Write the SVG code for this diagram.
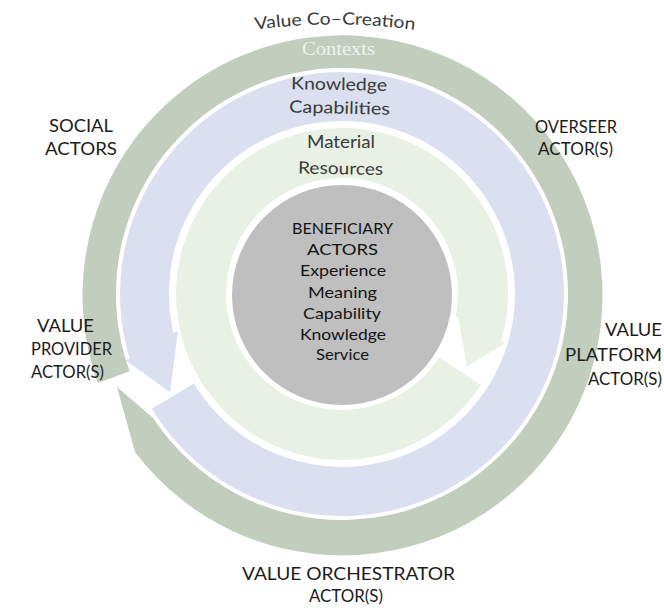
<svg xmlns="http://www.w3.org/2000/svg" width="664" height="608" viewBox="0 0 664 608">
<defs>
<style>
.lbl{font-family:Lato,"Liberation Sans",sans-serif;font-size:16.5px;fill:#1c1c1c}
.ctr{font-family:Lato,"Liberation Sans",sans-serif;font-size:15px;fill:#141414}
.ring{font-family:Lato,"Liberation Sans",sans-serif;font-size:17px;fill:#3a3a3a}
</style>
<path id="arcTop" d="M 215 36.6 A 600 600 0 0 1 455 36.6"/>
</defs>
<rect width="664" height="608" fill="#ffffff"/>

<g id="connectors">
<g id="ring-contexts">
<path fill="#c1cdbd" d="M 97.7 382.9 A 260 260 0 1 1 135 452 L 117 387 L 153.1 418.1 A 226 226 0 1 0 129.6 371.3 Z"/>
</g>
<g id="ring-knowledge">
<path fill="#dae0ef" d="M 151.9 408.7 A 222 222 0 1 0 129.7 358.9 L 125 360 L 170 392 L 178 331 L 173.4 332.9 A 173 173 0 1 1 193.9 383.4 Z"/>
</g>
<g id="ring-material">
<path fill="#e9f1e4" d="M 480.9 384.9 A 166 166 0 1 1 501.2 341.1 L 505 343.3 L 466.7 366.7 L 458.3 316.7 L 455.9 316.1 A 116 116 0 1 0 439.1 357.5 Z"/>
</g>
</g>

<g id="beneficiary">
<circle cx="342" cy="295" r="110" fill="#bfbfbf"/>
<text class="ctr" x="292" y="234" textLength="101" lengthAdjust="spacingAndGlyphs">BENEFICIARY</text>
<text class="ctr" x="307" y="255" textLength="71" lengthAdjust="spacingAndGlyphs">ACTORS</text>
<text class="ctr" x="300" y="276" textLength="86" lengthAdjust="spacingAndGlyphs">Experience</text>
<text class="ctr" x="308" y="297.5" textLength="69" lengthAdjust="spacingAndGlyphs">Meaning</text>
<text class="ctr" x="303" y="319" textLength="78" lengthAdjust="spacingAndGlyphs">Capability</text>
<text class="ctr" x="300" y="340" textLength="86" lengthAdjust="spacingAndGlyphs">Knowledge</text>
<text class="ctr" x="316" y="360" textLength="53" lengthAdjust="spacingAndGlyphs">Service</text>
</g>

<g id="ring-labels">
<text class="ring"><textPath href="#arcTop" startOffset="50%" text-anchor="middle" textLength="160" lengthAdjust="spacingAndGlyphs">Value Co–Creation</textPath></text>
<text x="302" y="54.5" font-family="'Liberation Serif',serif" font-size="19" fill="#eef2ec" textLength="73" lengthAdjust="spacingAndGlyphs">Contexts</text>
<text class="ring" x="291" y="89.3" textLength="96" lengthAdjust="spacingAndGlyphs" transform="rotate(0.9 291 89.3)">Knowledge</text>
<text class="ring" x="289" y="112.5" textLength="101" lengthAdjust="spacingAndGlyphs" transform="rotate(1.3 289 112.5)">Capabilities</text>
<text class="ring" x="307" y="148.3" textLength="68" lengthAdjust="spacingAndGlyphs">Material</text>
<text class="ring" x="298" y="173.5" textLength="85" lengthAdjust="spacingAndGlyphs" transform="rotate(1 298 173.5)">Resources</text>
</g>

<g id="social-actors">
<text class="lbl" x="49" y="132" textLength="64" lengthAdjust="spacingAndGlyphs">SOCIAL</text>
<text class="lbl" x="45" y="155" textLength="72" lengthAdjust="spacingAndGlyphs">ACTORS</text>
</g>
<g id="overseer-actors">
<text class="lbl" x="535" y="133" textLength="82" lengthAdjust="spacingAndGlyphs">OVERSEER</text>
<text class="lbl" x="538" y="155" textLength="75" lengthAdjust="spacingAndGlyphs">ACTOR(S)</text>
</g>
<g id="value-provider">
<text class="lbl" x="37" y="332" textLength="57" lengthAdjust="spacingAndGlyphs">VALUE</text>
<text class="lbl" x="31" y="355" textLength="81" lengthAdjust="spacingAndGlyphs">PROVIDER</text>
<text class="lbl" x="31" y="378" textLength="73" lengthAdjust="spacingAndGlyphs">ACTOR(S)</text>
</g>
<g id="value-platform">
<text class="lbl" x="605" y="336" textLength="57" lengthAdjust="spacingAndGlyphs">VALUE</text>
<text class="lbl" x="565" y="361" textLength="97" lengthAdjust="spacingAndGlyphs">PLATFORM</text>
<text class="lbl" x="588" y="385" textLength="74" lengthAdjust="spacingAndGlyphs">ACTOR(S)</text>
</g>
<g id="value-orchestrator">
<text class="lbl" x="242" y="580" textLength="213" lengthAdjust="spacingAndGlyphs">VALUE ORCHESTRATOR</text>
<text class="lbl" x="309" y="601.5" textLength="74" lengthAdjust="spacingAndGlyphs">ACTOR(S)</text>
</g>
</svg>
